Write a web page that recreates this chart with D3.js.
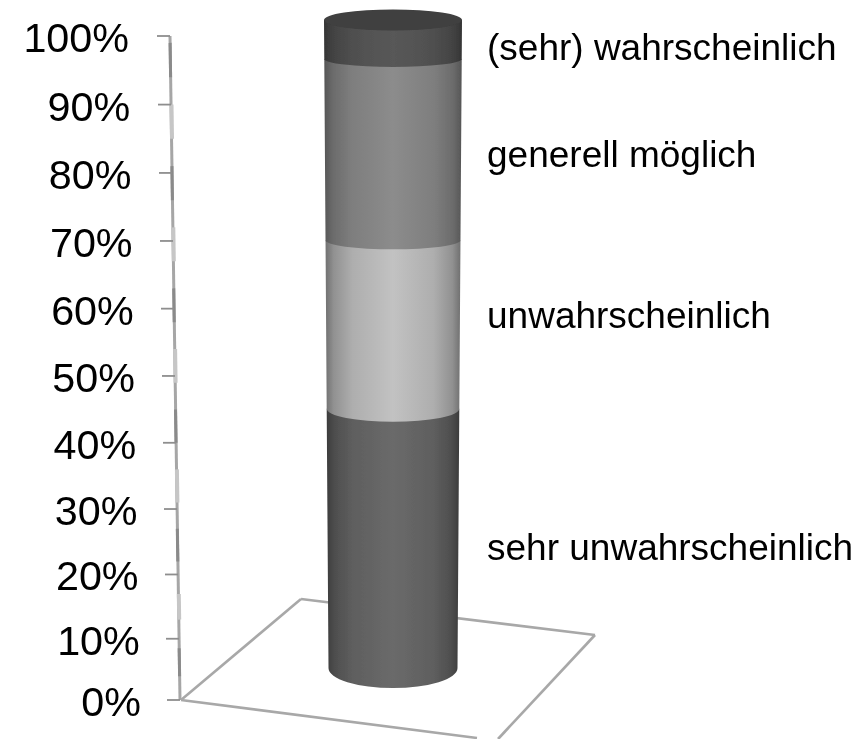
<!DOCTYPE html>
<html><head><meta charset="utf-8">
<script src="https://cdnjs.cloudflare.com/ajax/libs/d3/7.8.5/d3.min.js"></script>
<style>html,body{margin:0;background:#fff}svg{display:block}text{font-family:"Liberation Sans",Arial,sans-serif;fill:#000}</style>
</head><body><svg id="c" width="864" height="739"></svg>
<script>
const tickLabels=["0%","10%","20%","30%","40%","50%","60%","70%","80%","90%","100%"];
const tickValues=[0,10,20,30,40,50,60,70,80,90,100];
const categories=["sehr unwahrscheinlich","unwahrscheinlich","generell möglich","(sehr) wahrscheinlich"];
const seriesValues=[40,26,28,6];
const edgeColors=["#3c3c3c","#707070","#555555","#343434"];
const midColors=["#6a6a6a","#c2c2c2","#8c8c8c","#585858"];
const capColor="#3f3f3f";

const svg=d3.select("#c");
const defs=svg.append("defs");
defs.append("filter").attr("id","soft").append("feGaussianBlur").attr("stdDeviation",0.55);
const root=svg.append("g").attr("filter","url(#soft)");

const y=d3.scalePow().exponent(1.035).domain([0,100]).range([700,36]);
const axisX=d3.scaleLinear().domain([0,100]).range([180,170]);
const labelX=d3.scaleLinear().domain([0,100]).range([141,129]);
const cylY=d3.scaleLinear().domain([0,100]).range([668,20]);
const cylRx=d3.scaleLinear().domain([0,100]).range([64.5,69]);
const cylRy=d3.scaleLinear().domain([0,40,66,94,100]).range([20,13,9,8,10.5]);
const cx=393;

// floor
const floor=root.append("g").attr("fill","none").attr("stroke","#a8a8a8").attr("stroke-width",2.6);
[[[181,700],[301,599]],[[301,599],[595,635]],[[595,635],[498,739]],[[181,700],[477,738]]].forEach(s=>{
  floor.append("path").attr("d",d3.line()(s));
});

// value axis with its banded shading
const darkBands=[[99,94],[81,76],[63,58],[45,40],[27,22],[8.5,4]];
const lightBands=[[90,85],[72,67],[54,49],[36,31],[17,13]];
const ax=root.append("g");
ax.append("line").attr("x1",axisX(100)).attr("y1",y(100)).attr("x2",axisX(0)).attr("y2",y(0))
  .attr("stroke","#a6a6a6").attr("stroke-width",3);
ax.selectAll("line.d").data(darkBands).join("line").attr("class","d")
  .attr("x1",d=>axisX(d[0])).attr("y1",d=>y(d[0])).attr("x2",d=>axisX(d[1])).attr("y2",d=>y(d[1]))
  .attr("stroke","#8a8a8a").attr("stroke-width",3);
ax.selectAll("line.l").data(lightBands).join("line").attr("class","l")
  .attr("x1",d=>axisX(d[0])+0.5).attr("y1",d=>y(d[0])).attr("x2",d=>axisX(d[1])+0.5).attr("y2",d=>y(d[1]))
  .attr("stroke","#c6c6c6").attr("stroke-width",4);
ax.selectAll("line.t").data(tickValues).join("line").attr("class","t")
  .attr("x1",d=>axisX(d)-13).attr("x2",d=>axisX(d)).attr("y1",d=>y(d)).attr("y2",d=>y(d))
  .attr("stroke","#8e8e8e").attr("stroke-width",1.8);
ax.selectAll("text").data(tickValues).join("text")
  .attr("x",d=>labelX(d)).attr("y",d=>y(d)+16).attr("text-anchor","end").attr("font-size",41.3)
  .text((d,i)=>tickLabels[i]);

// cylinder
const shade=[[0,0],[.06,.4],[.2,.75],[.5,1],[.8,.75],[.94,.4],[1,0]];
const cum=d3.cumsum(seriesValues);
const stacks=seriesValues.map((v,i)=>({i,low:cum[i]-v,high:cum[i]}));
stacks.forEach(s=>{
  const g=defs.append("linearGradient").attr("id","g"+s.i);
  const mix=d3.interpolateRgb(edgeColors[s.i],midColors[s.i]);
  shade.forEach(([o,t])=>g.append("stop").attr("offset",o).attr("stop-color",mix(t)));
});
root.append("g").selectAll("path").data(stacks).join("path")
  .attr("fill",s=>`url(#g${s.i})`)
  .attr("d",s=>{
    const rl=cylRx(s.low),rh=cylRx(s.high),yl=cylY(s.low),yh=cylY(s.high),ry=cylRy(s.low);
    return `M${cx-rl},${yl}A${rl},${ry} 0 0 0 ${cx+rl},${yl}L${cx+rh},${yh}L${cx-rh},${yh}Z`;
  });
root.append("ellipse").attr("cx",cx).attr("cy",cylY(100)).attr("rx",cylRx(100)).attr("ry",cylRy(100)).attr("fill",capColor);

// category labels
const labelBaselines=[560,328,167,60];
root.append("g").selectAll("text").data(categories).join("text")
  .attr("x",487).attr("y",(d,i)=>labelBaselines[i]).attr("font-size",37).text(d=>d);
</script></body></html>
